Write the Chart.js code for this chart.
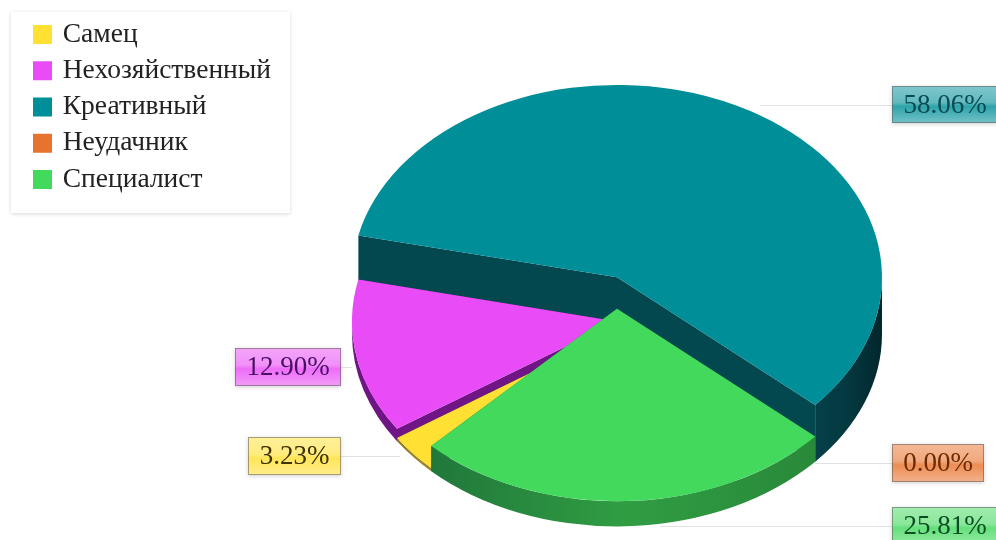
<!DOCTYPE html>
<html lang="ru">
<head>
<meta charset="utf-8">
<title>Типы</title>
<script src="https://cdn.jsdelivr.net/npm/chart.js@4/dist/chart.umd.min.js"></script>
<style>
  html, body { margin: 0; padding: 0; background: #fff; overflow: hidden; }
  canvas { display: block; }
</style>
</head>
<body>
<canvas id="grafica" width="996" height="540"></canvas>
<script>
const categorias = ['Самец', 'Нехозяйственный', 'Креативный', 'Неудачник', 'Специалист'];
const valores = [1, 4, 18, 0, 8];

// slice colours and side wall shades (left, middle, right of the wall)
const colores = ['#ffe033', '#e94cf6', '#008f98', '#e8732e', '#42d95d'];
const caras = ['#6e6320', '#6f1585', '#03474f', '#8a4318', '#1f7a3a'];
const paredes = [
  ['#8c7a24', '#9a8626', '#9a8626'],
  ['#6f1585', '#6f1585', '#6f1585'],
  ['#054049', '#043840', '#02262d'],
  ['#8a4318', '#8a4318', '#8a4318'],
  ['#20773a', '#309d43', '#29893a']
];
const textoEtiqueta = ['#3d3200', '#4a0f63', '#0a4a52', '#6b2a00', '#0b4d22'];

// far slices first so the nearer ones cover them
const ordenDibujo = [2, 1, 0, 3, 4];

const centroX = 617;
const baseY = 334;
const inclinacion = 0.726;
const alturaPorValor = 3.15;

// value tags: box x, y, width, height and where the leader line starts
const cajas = [
  { x: 248, y: 437, w: 93, h: 38, linea: 400 },
  { x: 235, y: 348, w: 106, h: 38, linea: 352 },
  { x: 892, y: 86, w: 106, h: 37, linea: 760 },
  { x: 892, y: 444, w: 92, h: 38, linea: 815 },
  { x: 892, y: 507, w: 106, h: 38, linea: 660 }
];

function hexAlpha(hex, a) {
  const n = parseInt(hex.slice(1), 16);
  return `rgba(${n >> 16},${(n >> 8) & 255},${n & 255},${a})`;
}

function pintarPorcion(ctx, arco, i) {
  const R = arco.outerRadius;
  const a0 = arco.startAngle;
  const a1 = arco.endAngle;
  const arribaY = baseY - valores[i] * alturaPorValor;
  const ry = R * inclinacion;

  // flat faces along the two cut edges
  ctx.fillStyle = caras[i];
  [a0, a1].forEach(a => {
    const px = centroX + R * Math.cos(a);
    const py = ry * Math.sin(a);
    ctx.beginPath();
    ctx.moveTo(centroX, arribaY);
    ctx.lineTo(centroX, baseY);
    ctx.lineTo(px, baseY + py);
    ctx.lineTo(px, arribaY + py);
    ctx.closePath();
    ctx.fill();
  });

  // curved outer wall, only the part facing the viewer
  for (let k = 0; k < 2; k++) {
    const desde = Math.max(a0, 2 * Math.PI * k);
    const hasta = Math.min(a1, Math.PI + 2 * Math.PI * k);
    if (desde >= hasta) continue;
    const x0 = centroX + R * Math.cos(hasta);
    const x1 = centroX + R * Math.cos(desde);
    const grad = ctx.createLinearGradient(x0, 0, x1, 0);
    grad.addColorStop(0, paredes[i][0]);
    grad.addColorStop(0.5, paredes[i][1]);
    grad.addColorStop(1, paredes[i][2]);
    ctx.fillStyle = grad;
    ctx.beginPath();
    ctx.ellipse(centroX, arribaY, R, ry, 0, desde, hasta);
    ctx.ellipse(centroX, baseY, R, ry, 0, hasta, desde, true);
    ctx.closePath();
    ctx.fill();
  }

  // top of the slice, drawn by the arc element itself
  ctx.save();
  ctx.translate(centroX, arribaY);
  ctx.scale(1, inclinacion);
  ctx.translate(-arco.x, -arco.y);
  arco.draw(ctx);
  ctx.restore();
}

function pintarEtiqueta(ctx, i, total) {
  const c = cajas[i];
  const color = colores[i];
  const medio = c.y + c.h / 2;

  ctx.save();
  ctx.shadowColor = 'rgba(0,0,0,0.18)';
  ctx.shadowBlur = 4;
  ctx.shadowOffsetY = 1;
  ctx.fillStyle = '#fff';
  ctx.fillRect(c.x, c.y, c.w, c.h);
  ctx.restore();

  const grad = ctx.createLinearGradient(0, c.y, 0, c.y + c.h);
  grad.addColorStop(0, hexAlpha(color, 0.5));
  grad.addColorStop(0.45, hexAlpha(color, 0.62));
  grad.addColorStop(0.55, hexAlpha(color, 0.82));
  grad.addColorStop(1, hexAlpha(color, 0.55));
  ctx.fillStyle = grad;
  ctx.fillRect(c.x, c.y, c.w, c.h);
  ctx.strokeStyle = 'rgba(90,90,90,0.55)';
  ctx.lineWidth = 1;
  ctx.strokeRect(c.x + 0.5, c.y + 0.5, c.w - 1, c.h - 1);

  ctx.fillStyle = textoEtiqueta[i];
  ctx.font = '27px "Liberation Serif"';
  ctx.textAlign = 'center';
  ctx.textBaseline = 'middle';
  const centro = i === 2 || i === 4 ? c.x + 53 : c.x + c.w / 2;
  ctx.fillText((valores[i] / total * 100).toFixed(2) + '%', centro, medio + 1);
}

const pastel3d = {
  id: 'pastel3d',
  beforeDraw(chart) {
    // legend panel
    const ctx = chart.ctx;
    ctx.save();
    ctx.fillStyle = '#fff';
    ctx.shadowColor = 'rgba(0,0,0,0.16)';
    ctx.shadowBlur = 4;
    ctx.shadowOffsetY = 1;
    ctx.fillRect(11, 12, 279, 201);
    ctx.restore();
  },
  beforeDatasetsDraw(chart) {
    const ctx = chart.ctx;
    const arcos = chart.getDatasetMeta(0).data;
    const total = valores.reduce((a, b) => a + b, 0);

    // leader lines go under the slices
    ctx.save();
    ctx.strokeStyle = '#e2e2e2';
    ctx.lineWidth = 1;
    cajas.forEach(c => {
      const y = Math.round(c.y + c.h / 2) + 0.5;
      ctx.beginPath();
      if (c.linea < c.x) {
        ctx.moveTo(c.linea, y);
        ctx.lineTo(c.x, y);
      } else {
        ctx.moveTo(c.x + c.w, y);
        ctx.lineTo(c.linea, y);
      }
      ctx.stroke();
    });
    ctx.restore();

    ordenDibujo.forEach(i => {
      if (valores[i] > 0) pintarPorcion(ctx, arcos[i], i);
    });
    categorias.forEach((_, i) => pintarEtiqueta(ctx, i, total));

    // the slices are already painted, skip the default pass
    return false;
  }
};

const grafica = new Chart(document.getElementById('grafica').getContext('2d'), {
  type: 'pie',
  data: {
    labels: categorias,
    datasets: [{
      data: valores,
      backgroundColor: colores,
      borderWidth: 0
    }]
  },
  options: {
    responsive: false,
    animation: false,
    rotation: 224.5,
    radius: 265,
    layout: { padding: { left: 27.25, top: 12 } },
    plugins: {
      tooltip: { enabled: false },
      legend: {
        position: 'left',
        align: 'start',
        labels: {
          // small box plus a thick same colour stroke keeps the text close to the swatch
          boxWidth: 13,
          boxHeight: 13,
          padding: 8.75,
          color: '#222',
          font: { family: '"Liberation Serif"', size: 27.5 },
          generateLabels(chart) {
            return Chart.overrides.pie.plugins.legend.labels.generateLabels(chart).map((item, i) => {
              item.lineWidth = 6;
              item.strokeStyle = colores[i];
              return item;
            });
          }
        }
      }
    }
  },
  plugins: [pastel3d]
});
</script>
</body>
</html>
